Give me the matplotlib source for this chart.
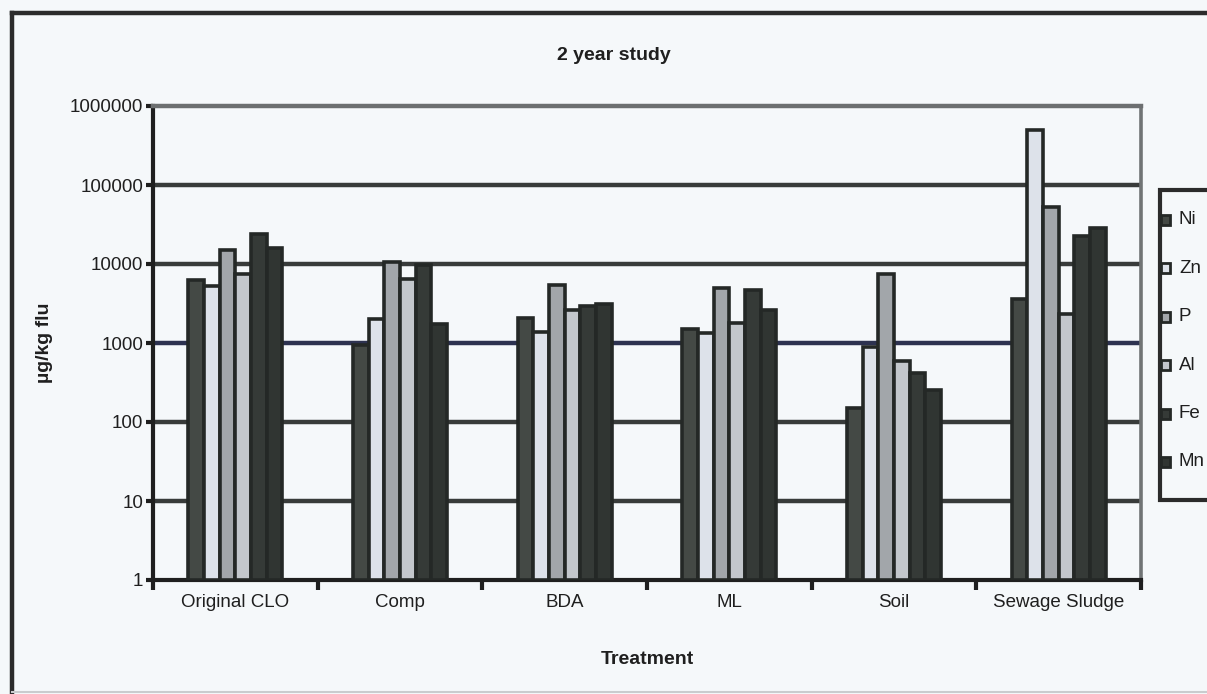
import matplotlib
matplotlib.use("Agg")
import matplotlib.pyplot as plt
import numpy as np
from matplotlib.patches import Rectangle
from matplotlib.lines import Line2D
from matplotlib.ticker import FixedLocator, FuncFormatter, NullFormatter

# Element concentrations (µg/kg flu) per treatment
treatments = ["Original CLO", "Comp", "BDA", "ML", "Soil", "Sewage Sludge"]
elements = ["Ni", "Zn", "P", "Al", "Fe", "Mn"]
ni = [6200, 950, 2050, 1500, 150, 3600]
zn = [5200, 2000, 1380, 1340, 900, 500000]
p = [15000, 10600, 5400, 5000, 7400, 53000]
al = [7500, 6500, 2600, 1800, 590, 2300]
fe = [24000, 9800, 2950, 4700, 420, 22500]
mn = [16000, 1750, 3100, 2600, 255, 28500]
series = [ni, zn, p, al, fe, mn]

fills = ["#444945", "#dde2ea", "#a2a6aa", "#c3c7cc", "#353a37", "#303532"]
edge = "#242826"
ink = "#1f1f1f"
bg = "#f5f8fa"

plt.rcParams["font.family"] = ["Liberation Sans", "DejaVu Sans"]

W, H = 1207, 694
fig = plt.figure(figsize=(W / 100, H / 100), dpi=100, facecolor=bg)
ax = fig.add_axes([153 / W, 1 - 580 / H, (1141 - 153) / W, (580 - 106) / H])
ax.set_facecolor(bg)

x = np.arange(len(treatments))
bw = 0.095
for i, (vals, col) in enumerate(zip(series, fills)):
    offs = (i - (len(series) - 1) / 2) * bw
    ax.bar(x + offs, vals, width=bw, bottom=1, color=col, edgecolor=edge,
           linewidth=2.6, zorder=3, label=elements[i])

ax.set_yscale("log")
ax.set_ylim(1, 1e6)
ax.set_xlim(-0.5, len(treatments) - 0.5)

decades = [10 ** k for k in range(7)]
ax.yaxis.set_major_locator(FixedLocator(decades))
ax.yaxis.set_minor_locator(FixedLocator([]))
ax.yaxis.set_major_formatter(FuncFormatter(lambda v, _: f"{int(round(v))}"))

ax.set_axisbelow(True)
ax.grid(axis="y", color="#383b3a", linewidth=3.2, zorder=1)
for gl, val in zip(ax.get_ygridlines(), decades):
    if val == 1000:
        gl.set_color("#2d3250")
    if val in (1, 1e6):
        gl.set_visible(False)

ax.xaxis.set_major_locator(FixedLocator(np.arange(-0.5, len(treatments), 1.0)))
ax.xaxis.set_major_formatter(NullFormatter())
ax.xaxis.set_minor_locator(FixedLocator(x))
ax.set_xticklabels(treatments, minor=True)
ax.tick_params(axis="x", which="major", direction="out", length=7, width=3, color=ink)
ax.tick_params(axis="x", which="minor", length=0, pad=10, labelsize=13.5, labelcolor=ink)
ax.tick_params(axis="y", which="major", direction="out", length=5, width=3, color=ink,
               labelsize=13.5, labelcolor=ink, pad=2)

for side in ("left", "bottom"):
    ax.spines[side].set_color(ink)
    ax.spines[side].set_linewidth(3)
ax.spines["top"].set_color("#6c6f70")
ax.spines["top"].set_linewidth(3.2)
ax.spines["right"].set_color("#707475")
ax.spines["right"].set_linewidth(2.6)

ax.set_xlabel("Treatment", fontsize=14, fontweight="bold", color=ink, labelpad=29)
ax.set_ylabel("µg/kg flu", fontsize=14, fontweight="bold", color=ink, labelpad=12)
fig.text(614 / W, 1 - 55 / H, "2 year study", ha="center", va="center",
         fontsize=14, fontweight="bold", color=ink)

# outer chart frame: dark left and top edges, faint bottom edge
fx, fy_top, fy_bot = 12 / W, 1 - 13 / H, 1 - 692 / H
fig.lines.append(Line2D([fx, fx], [fy_bot, fy_top], transform=fig.transFigure,
                        color="#2b2b2b", linewidth=3.2))
fig.lines.append(Line2D([fx, 1.0], [fy_top, fy_top], transform=fig.transFigure,
                        color="#2b2b2b", linewidth=3.2))
fig.lines.append(Line2D([fx, 1.0], [fy_bot, fy_bot], transform=fig.transFigure,
                        color="#c9ccce", linewidth=1.5))

# legend box
lx0, ly0, ly1 = 1160, 190, 500
fig.patches.append(Rectangle((lx0 / W, 1 - ly1 / H), 0.2, (ly1 - ly0) / H,
                             transform=fig.transFigure, facecolor=bg,
                             edgecolor="#2b2b2b", linewidth=3, zorder=5))
for i, (name, col) in enumerate(zip(elements, fills)):
    yc = 220 + i * 48.4
    fig.patches.append(Rectangle(((lx0 + 1) / W, 1 - (yc + 5) / H), 9 / W, 10 / H,
                                 transform=fig.transFigure, facecolor=col,
                                 edgecolor=edge, linewidth=2, zorder=6))
    fig.text((lx0 + 19) / W, 1 - yc / H, name, ha="left", va="center",
             fontsize=13.5, color=ink, zorder=7)

fig.savefig("out.png", dpi=100, facecolor=bg)
